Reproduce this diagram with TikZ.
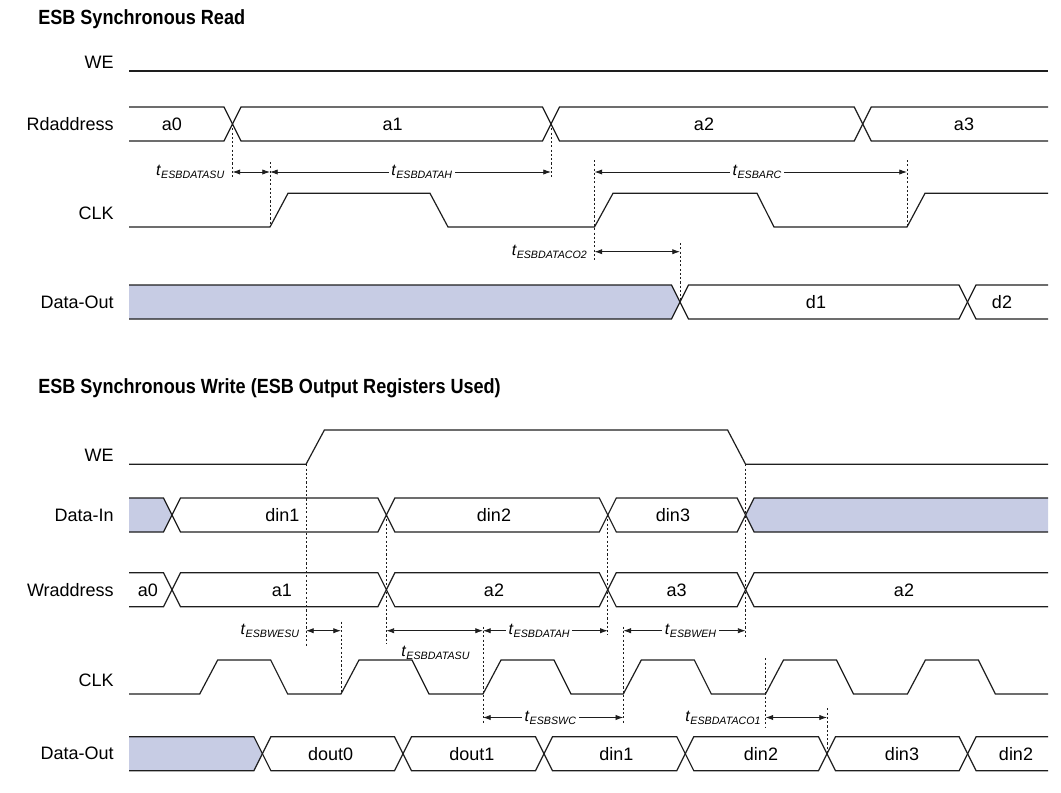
\documentclass[tikz,border=0pt]{standalone}
\usepackage{fontspec}
\setmainfont{Liberation Sans}
\newfontfamily\headfont[FakeStretch=0.88]{Liberation Sans}
\usepackage{tikz}
\usetikzlibrary{positioning,arrows.meta}
\definecolor{ink}{RGB}{30,30,30}
\definecolor{busfill}{RGB}{199,204,228}
\tikzset{
  sig/.style={draw=ink, line width=0.9pt},
  guide/.style={draw=ink, line width=0.7pt, dash pattern=on 1.6pt off 1.6pt},
  dim/.style={{Latex[length=5.8pt,width=4pt]}-{Latex[length=5.8pt,width=4pt]}, line width=0.6pt, draw=ink},
  signame/.style={anchor=east, inner sep=0pt, font=\fontsize{13.5}{16}\selectfont},
  val/.style={inner sep=0pt, font=\fontsize{13.5}{16}\selectfont},
  tlbl/.style={inner sep=2pt, font=\fontsize{12}{14}\selectfont},
  heading/.style={anchor=base west, inner sep=0pt, font=\headfont\bfseries\fontsize{15.4}{18}\selectfont}
}
\newcommand{\tsub}[1]{\textit{t}{\fontsize{8}{9}\selectfont\itshape\raisebox{-0.5ex}{#1}}}
% bus segments: open left end, between two crossings, open right end
\newcommand{\segL}[3][none]{\draw[sig,fill=#1] (129,#3-17) -- (#2-8.5,#3-17) -- (#2,#3) -- (#2-8.5,#3+17) -- (129,#3+17);}
\newcommand{\segM}[3]{\draw[sig] (#1,#3) -- (#1+8.5,#3-17) -- (#2-8.5,#3-17) -- (#2,#3) -- (#2-8.5,#3+17) -- (#1+8.5,#3+17) -- cycle;}
\newcommand{\segR}[3][none]{\draw[sig,fill=#1] (1048,#3-17) -- (#2+8.5,#3-17) -- (#2,#3) -- (#2+8.5,#3+17) -- (1048,#3+17);}

\begin{document}
\begin{tikzpicture}[x=0.75pt, y=-0.75pt]
  \useasboundingbox (0,0) rectangle (1061,793);

  % --- synchronous read ---
  \node[heading] (hrd) at (38,24) {ESB Synchronous Read};
  \node[signame] (we1) at (114,62) {WE};
  \node[signame] (rda) at (114,124) {Rdaddress};
  \node[signame] (clk1) at (114,213) {CLK};
  \node[signame] (do1) at (114,302) {Data-Out};

  \draw[sig] (129,71) -- (1048,71);
  \segL{232.5}{124} \segM{232.5}{551}{124} \segM{551}{862.7}{124} \segR{862.7}{124}
  \node[val] (ra0) at (172,124) {a0};
  \node[val] (ra1) at (392.6,124) {a1};
  \node[val] (ra2) at (704,124) {a2};
  \node[val] (ra3) at (964,124) {a3};
  \draw[sig] (129,227) -- (270,227) -- (288,193.3) -- (430,193.3) -- (448,227) -- (594.5,227) -- (613,193.3)
    -- (757,193.3) -- (774,227) -- (907,227) -- (925,193.3) -- (1048,193.3);
  \segL[busfill]{680}{302} \segM{680}{967.5}{302} \segR{967.5}{302}
  \node[val] (rd1) at (816,302) {d1};
  \node[val] (rd2) at (1002,302) {d2};

  \draw[guide] (232.5,124) -- (232.5,177);
  \draw[guide] (270,162) -- (270,227);
  \draw[guide] (551,124) -- (551,177);
  \draw[guide] (594.5,160) -- (594.5,262);
  \draw[guide] (907,160) -- (907,227);
  \draw[guide] (680,243) -- (680,302);

  \coordinate (rsu1) at (232.5,172);
  \coordinate (rsu2) at (270,172);
  \coordinate (rh2) at (551,172);
  \coordinate (rc1) at (594.5,172);
  \coordinate (rc2) at (907,172);
  \coordinate (rco1) at (594.5,251.7);
  \coordinate (rco2) at (680,251.7);
  \draw[dim] (rsu1) -- (rsu2);
  \draw[dim] (rsu2) -- node[tlbl, fill=white, pos=0.54] (tdh1) {\tsub{ESBDATAH}} (rh2);
  \draw[dim] (rc1) -- node[tlbl, fill=white, pos=0.52] (tarc) {\tsub{ESBARC}} (rc2);
  \draw[dim] (rco1) -- (rco2);
  \node[tlbl, left=4pt of rsu1] (tdsu1) {\tsub{ESBDATASU}};
  \node[tlbl, left=3.5pt of rco1] (tco2) {\tsub{ESBDATACO2}};

  % --- synchronous write ---
  \node[heading] (hwr) at (38,393.5) {ESB Synchronous Write (ESB Output Registers Used)};
  \node[signame] (we2) at (114,455) {WE};
  \node[signame] (din) at (114,515) {Data-In};
  \node[signame] (wra) at (114,590) {Wraddress};
  \node[signame] (clk2) at (114,680) {CLK};
  \node[signame] (do2) at (114,753.7) {Data-Out};

  \draw[sig] (129,464.3) -- (306,464.3) -- (324.4,430) -- (727.6,430) -- (745.6,464.3) -- (1048,464.3);
  \segL[busfill]{172}{515} \segM{172}{386.4}{515} \segM{386.4}{607.8}{515} \segM{607.8}{745.6}{515} \segR[busfill]{745.6}{515}
  \node[val] (di1) at (282.4,515) {din1};
  \node[val] (di2) at (494,515) {din2};
  \node[val] (di3) at (673,515) {din3};
  \segL{172}{589.7} \segM{172}{386.4}{589.7} \segM{386.4}{607.8}{589.7} \segM{607.8}{745.6}{589.7} \segR{745.6}{589.7}
  \node[val] (wa0) at (148,590) {a0};
  \node[val] (wa1) at (282,590) {a1};
  \node[val] (wa2) at (494,590) {a2};
  \node[val] (wa3) at (676.7,590) {a3};
  \node[val] (wa4) at (904,590) {a2};
  \draw[sig] (129,694) \foreach \r in {199.7,341,483,623.3,765.5,907.4} { -- (\r,694) -- ++(18,-34) -- ++(53,0) -- ++(17,34) } -- (1048,694);
  \segL[busfill]{262.4}{753.7} \segM{262.4}{403}{753.7} \segM{403}{544}{753.7} \segM{544}{685.3}{753.7}
  \segM{685.3}{827}{753.7} \segM{827}{967.6}{753.7} \segR{967.6}{753.7}
  \node[val] (wo0) at (330.6,753.7) {dout0};
  \node[val] (wo1) at (471.8,753.7) {dout1};
  \node[val] (wo2) at (616.4,753.7) {din1};
  \node[val] (wo3) at (761,753.7) {din2};
  \node[val] (wo4) at (902,753.7) {din3};
  \node[val] (wo5) at (1016,753.7) {din2};

  \draw[guide] (306,464.3) -- (306,646.7);
  \draw[guide] (386.4,515) -- (386.4,643.3);
  \draw[guide] (607.8,515) -- (607.8,635);
  \draw[guide] (745.6,464.3) -- (745.6,636.7);
  \draw[guide] (341,621.7) -- (341,694);
  \draw[guide] (483,626.7) -- (483,723.3);
  \draw[guide] (623.3,626.7) -- (623.3,723.3);
  \draw[guide] (765.5,658.3) -- (765.5,726.7);
  \draw[guide] (827,708.3) -- (827,753.7);

  \coordinate (wsu1) at (306,630.7);
  \coordinate (wsu2) at (341,630.7);
  \coordinate (dsu1) at (386.4,630.7);
  \coordinate (dsu2) at (483,630.7);
  \coordinate (dh2) at (607.8,630.7);
  \coordinate (weh1) at (623.3,630.7);
  \coordinate (weh2) at (745.6,630.7);
  \coordinate (swc1) at (483,717.5);
  \coordinate (swc2) at (623.3,717.5);
  \coordinate (co1a) at (765.5,717.5);
  \coordinate (co1b) at (827,717.5);
  \draw[dim] (wsu1) -- (wsu2);
  \draw[dim] (dsu1) -- (dsu2);
  \draw[dim] (dsu2) -- node[tlbl, fill=white, pos=0.45] (tdh2) {\tsub{ESBDATAH}} (dh2);
  \draw[dim] (weh1) -- node[tlbl, fill=white, pos=0.55] (tweh) {\tsub{ESBWEH}} (weh2);
  \draw[dim] (swc1) -- node[tlbl, fill=white, pos=0.48] (tswc) {\tsub{ESBSWC}} (swc2);
  \draw[dim] (co1a) -- (co1b);
  \node[tlbl, left=3pt of wsu1] (twesu) {\tsub{ESBWESU}};
  \node[tlbl] (tdsu2) at (435.5,653) {\tsub{ESBDATASU}};
  \node[tlbl, left=1.5pt of co1a] (tco1) {\tsub{ESBDATACO1}};
\end{tikzpicture}
\end{document}
